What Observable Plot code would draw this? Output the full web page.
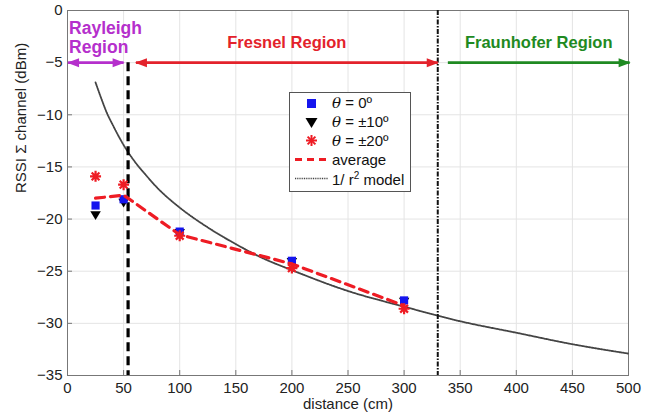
<!DOCTYPE html>
<html>
<head>
<meta charset="utf-8">
<script src="https://cdn.jsdelivr.net/npm/d3@7"></script>
<script src="https://cdn.jsdelivr.net/npm/@observablehq/plot@0.6"></script>
<style>
  html, body { margin: 0; padding: 0; background: #fff; }
  #wrap { position: relative; width: 654px; height: 417px; font-family: "Liberation Sans", Arial, sans-serif; }
  #legend { position: absolute; left: 289px; top: 92px; width: 122px; height: 100px; border: 1px solid #555; background: #fff; box-sizing: border-box; padding-top: 1px; }
  .row { display: flex; align-items: center; height: 18.8px; font-size: 15px; color: #111; }
  .sym { width: 42px; display: flex; justify-content: center; align-items: center; }
  .th { font-family: "DejaVu Serif", serif; font-style: italic; }
</style>
</head>
<body>
<div id="wrap">
  <div id="chart"></div>
  <div id="legend"></div>
</div>
<script>
// ---- data ----
const distances = [25, 50, 100, 200, 300];
const theta0 = [-18.7, -18.1, -21.2, -24.0, -27.8];
const theta10 = [-19.6, -18.4, -21.3, -24.1, -27.9];
const theta20 = [-15.9, -16.7, -21.6, -24.7, -28.6];
const average = [-18.0, -17.7, -21.5, -24.3, -28.3];

const modelX = [25, 30, 35, 40, 50, 60, 70, 80, 100, 125, 150, 175, 200, 250, 300, 350, 400, 450, 500];
const modelY = [-6.9, -8.4, -9.8, -10.9, -12.9, -14.5, -15.8, -17.0, -18.9, -20.8, -22.4, -23.8, -24.9, -26.9, -28.4, -29.8, -30.9, -32.0, -32.9];

const regionNames = ["Rayleigh\nRegion", "Fresnel Region", "Fraunhofer Region"];
const regionStart = [0.5, 61, 339];
const regionEnd = [50, 330, 501];
const regionColors = ["#b52fcc", "#e3222b", "#1f8a22"];
const regionLeftHead = [true, true, false];
const arrowLevel = -5;

const rayleighBoundary = 54;
const fraunhoferBoundary = 330;

const xTicks = [0, 50, 100, 150, 200, 250, 300, 350, 400, 450, 500];
const yTicks = [0, -5, -10, -15, -20, -25, -30, -35];

// ---- tables ----
const pts = distances.map((d, i) => ({d, t0: theta0[i], t10: theta10[i], t20: theta20[i], avg: average[i]}));
const model = modelX.map((x, i) => ({x, y: modelY[i]}));
const regions = regionNames.map((name, i) => ({
  name, x1: regionStart[i], x2: regionEnd[i], color: regionColors[i],
  mid: (regionStart[i] + regionEnd[i]) / 2, left: regionLeftHead[i], y: arrowLevel
}));

// custom symbols
const triDown = { draw(ctx, size) { const r = Math.sqrt(size / Math.PI); ctx.moveTo(-r * 1.05, -r * 0.75); ctx.lineTo(r * 1.05, -r * 0.75); ctx.lineTo(0, r * 1.0); ctx.closePath(); } };
const headRight = { draw(ctx) { ctx.moveTo(1, 0); ctx.lineTo(-11, -4.5); ctx.lineTo(-11, 4.5); ctx.closePath(); } };
const headLeft = { draw(ctx) { ctx.moveTo(-1, 0); ctx.lineTo(11, -4.5); ctx.lineTo(11, 4.5); ctx.closePath(); } };
const star = { draw(ctx, size) { const r = Math.sqrt(size / Math.PI); for (let k = 0; k < 4; k++) { const a = k * Math.PI / 4; ctx.moveTo(-r * Math.cos(a), -r * Math.sin(a)); ctx.lineTo(r * Math.cos(a), r * Math.sin(a)); } } };

const chart = Plot.plot({
  width: 654,
  height: 417,
  marginLeft: 67,
  marginRight: 26,
  marginTop: 10,
  marginBottom: 42,
  style: { fontFamily: "Liberation Sans, Arial, sans-serif", fontSize: "15px", color: "#222", background: "#fff" },
  x: { domain: [0, 500], ticks: xTicks, label: null },
  y: { domain: [-35, 0], ticks: yTicks, label: null },
  marks: [
    Plot.gridX(xTicks, { stroke: "#e4e4e4", strokeOpacity: 1 }),
    Plot.gridY(yTicks, { stroke: "#e4e4e4", strokeOpacity: 1 }),
    Plot.frame({ stroke: "#777" }),
    Plot.axisX({ ticks: xTicks, tickSize: -5, tickPadding: 12, stroke: "#777", label: null, fontSize: 15 }),
    Plot.axisY({ ticks: yTicks, tickSize: -5, tickPadding: 10, stroke: "#777", label: null, fontSize: 15 }),
    Plot.text(["distance (cm)"], { frameAnchor: "bottom", dy: 33, fontSize: 15, fill: "#222" }),
    Plot.text(["RSSI Σ channel (dBm)"], { frameAnchor: "left", dx: -46, rotate: -90, fontSize: 15, fill: "#222" }),
    // model curve
    Plot.line(model, { x: "x", y: "y", stroke: "#444", strokeWidth: 1.8, strokeDasharray: "1,1", curve: "monotone-x" }),
    // boundaries
    Plot.ruleX([rayleighBoundary], { y1: arrowLevel, y2: -35, stroke: "#000", strokeWidth: 3.2, strokeDasharray: "9,5" }),
    Plot.ruleX([fraunhoferBoundary], { y1: 0, y2: -35, stroke: "#111", strokeWidth: 2, strokeDasharray: "5,1.5,1.5,1.5" }),
    // data points
    Plot.dot(pts, { x: "d", y: "t10", symbol: triDown, r: 5, fill: "#000", stroke: "none" }),
    Plot.dot(pts, { x: "d", y: "t0", symbol: "square", r: 4.6, fill: "#1515ee", stroke: "none" }),
    Plot.dot(pts, { x: "d", y: "t20", symbol: star, r: 5.5, stroke: "#ee1c24", strokeWidth: 2.2, fill: "none" }),
    Plot.line(pts, { x: "d", y: "avg", stroke: "#ee1c24", strokeWidth: 3.2, strokeDasharray: "9,6" }),
    // region arrows
    Plot.link(regions, { x1: "x1", x2: "x2", y1: "y", y2: "y", stroke: "color", strokeWidth: 2.6 }),
    Plot.dot(regions, { x: "x2", y: "y", symbol: headRight, r: 5, fill: "color", stroke: "none" }),
    Plot.dot(regions.filter(r => r.left), { x: "x1", y: "y", symbol: headLeft, r: 5, fill: "color", stroke: "none" }),
    Plot.text(regions.filter(r => r.x1 > 1), { x: "mid", y: "y", text: "name", fill: "color", fontWeight: "bold", fontSize: 16.5, dy: -20 }),
    Plot.text(regions.filter(r => r.x1 < 1), { x: "x1", y: "y", text: "name", fill: "color", fontWeight: "bold", fontSize: 17.5, textAnchor: "start", dx: 1, dy: -25, lineHeight: 1.05 })
  ],
  color: { type: "identity" }
});
document.getElementById("chart").appendChild(chart);

// legend (HTML)
const legendItems = [
  { label: '<span class="th">θ</span> = 0º', svg: '<rect x="6" y="4" width="9" height="9" fill="#1515ee"/>' },
  { label: '<span class="th">θ</span> = ±10º', svg: '<path d="M4.5,4 L16.5,4 L10.5,14 Z" fill="#000"/>' },
  { label: '<span class="th">θ</span> = ±20º', svg: '<g stroke="#ee1c24" stroke-width="2"><line x1="5" y1="8.5" x2="16" y2="8.5"/><line x1="10.5" y1="3" x2="10.5" y2="14"/><line x1="6.6" y1="4.6" x2="14.4" y2="12.4"/><line x1="14.4" y1="4.6" x2="6.6" y2="12.4"/></g>' },
  { label: 'average', svg: '<line x1="0" y1="8.5" x2="33" y2="8.5" stroke="#ee1c24" stroke-width="3" stroke-dasharray="7,5"/>', wide: true },
  { label: '1/ r<sup style="font-size:10px">2</sup> model', svg: '<line x1="0" y1="8.5" x2="33" y2="8.5" stroke="#444" stroke-width="1.6" stroke-dasharray="1,0.8"/>', wide: true }
];
const leg = document.getElementById("legend");
legendItems.forEach(it => {
  const row = document.createElement("div");
  row.className = "row";
  const w = it.wide ? 33 : 21;
  row.innerHTML = `<div class="sym"><svg width="${w}" height="17">${it.svg}</svg></div><div>${it.label}</div>`;
  leg.appendChild(row);
});
</script>
</body>
</html>
